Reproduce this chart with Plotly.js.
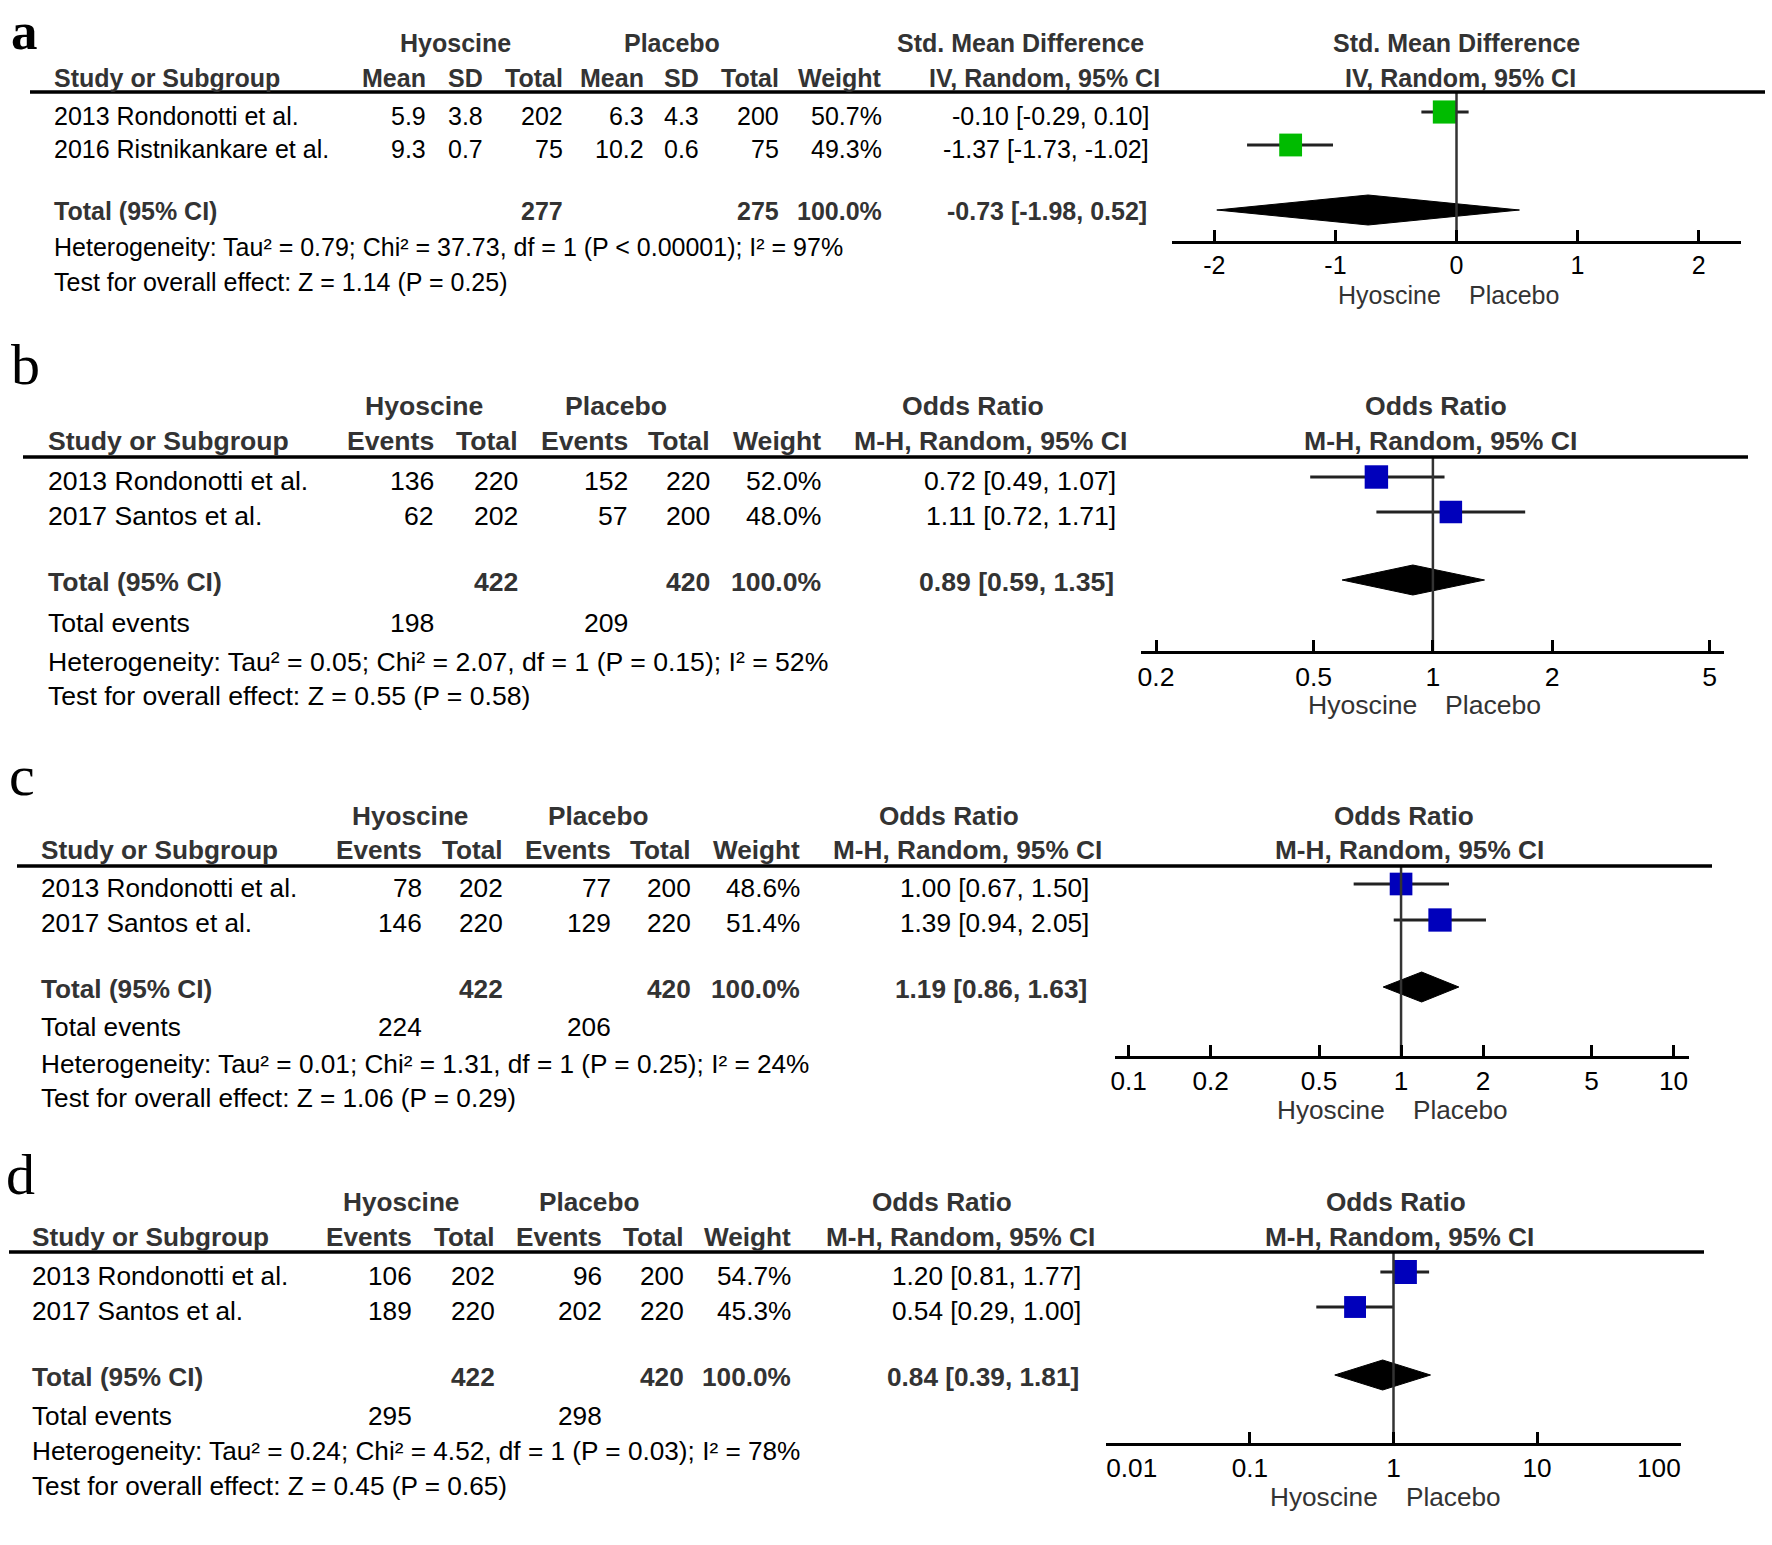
<!DOCTYPE html>
<html>
<head>
<meta charset="utf-8">
<script src="https://cdn.plot.ly/plotly-3.0.1.min.js"></script>
<style>html,body{margin:0;padding:0;background:#fff}#chart{width:1772px;height:1545px}</style>
</head>
<body>
<div id="chart"></div>
<script>
// ================= DATA =================
// Panel a : Std. Mean Difference
const studiesA = ['2013 Rondonotti et al.', '2016 Ristnikankare et al.'];
const hyoMeanA = [5.9, 9.3];
const hyoSdA = [3.8, 0.7];
const hyoTotalA = [202, 75];
const plaMeanA = [6.3, 10.2];
const plaSdA = [4.3, 0.6];
const plaTotalA = [200, 75];
const weightA = [50.7, 49.3];
const estA = [-0.10, -1.37];
const loA = [-0.29, -1.73];
const hiA = [0.10, -1.02];
const pooledA = [-0.73, -1.98, 0.52];   // estimate, lower, upper
const sumTotalsA = [277, 275];
const hetA = 'Heterogeneity: Tau² = 0.79; Chi² = 37.73, df = 1 (P < 0.00001); I² = 97%';
const testA = 'Test for overall effect: Z = 1.14 (P = 0.25)';
const ticksA = [-2, -1, 0, 1, 2];

// Panel b : Odds Ratio
const studiesB = ['2013 Rondonotti et al.', '2017 Santos et al.'];
const hyoEventsB = [136, 62];
const hyoTotalB = [220, 202];
const plaEventsB = [152, 57];
const plaTotalB = [220, 200];
const weightB = [52.0, 48.0];
const estB = [0.72, 1.11];
const loB = [0.49, 0.72];
const hiB = [1.07, 1.71];
const pooledB = [0.89, 0.59, 1.35];
const sumTotalsB = [422, 420];
const totalEventsB = [198, 209];
const hetB = 'Heterogeneity: Tau² = 0.05; Chi² = 2.07, df = 1 (P = 0.15); I² = 52%';
const testB = 'Test for overall effect: Z = 0.55 (P = 0.58)';
const ticksB = [0.2, 0.5, 1, 2, 5];

// Panel c : Odds Ratio
const studiesC = ['2013 Rondonotti et al.', '2017 Santos et al.'];
const hyoEventsC = [78, 146];
const hyoTotalC = [202, 220];
const plaEventsC = [77, 129];
const plaTotalC = [200, 220];
const weightC = [48.6, 51.4];
const estC = [1.00, 1.39];
const loC = [0.67, 0.94];
const hiC = [1.50, 2.05];
const pooledC = [1.19, 0.86, 1.63];
const sumTotalsC = [422, 420];
const totalEventsC = [224, 206];
const hetC = 'Heterogeneity: Tau² = 0.01; Chi² = 1.31, df = 1 (P = 0.25); I² = 24%';
const testC = 'Test for overall effect: Z = 1.06 (P = 0.29)';
const ticksC = [0.1, 0.2, 0.5, 1, 2, 5, 10];

// Panel d : Odds Ratio
const studiesD = ['2013 Rondonotti et al.', '2017 Santos et al.'];
const hyoEventsD = [106, 189];
const hyoTotalD = [202, 220];
const plaEventsD = [96, 202];
const plaTotalD = [200, 220];
const weightD = [54.7, 45.3];
const estD = [1.20, 0.54];
const loD = [0.81, 0.29];
const hiD = [1.77, 1.00];
const pooledD = [0.84, 0.39, 1.81];
const sumTotalsD = [422, 420];
const totalEventsD = [295, 298];
const hetD = 'Heterogeneity: Tau² = 0.24; Chi² = 4.52, df = 1 (P = 0.03); I² = 78%';
const testD = 'Test for overall effect: Z = 0.45 (P = 0.65)';
const ticksD = [0.01, 0.1, 1, 10, 100];

// ================= LAYOUT HELPERS =================
const W = 1772, H = 1545;
const FONT = 'Liberation Sans, Arial, Helvetica, sans-serif';
const SERIF = 'Liberation Serif, Times New Roman, serif';
const HDR = '#333333';
const annotations = [], shapes = [], traces = [];
const px = x => x / W, py = y => 1 - y / H;
const f1 = v => v.toFixed(1);
const f2 = v => v.toFixed(2);
const pct = v => v.toFixed(1) + '%';
const ci = (e, l, h) => f2(e) + ' [' + f2(l) + ', ' + f2(h) + ']';
const sum = a => a.reduce((s, v) => s + v, 0);

function txt(text, x, y, anchor, o = {}) {
  annotations.push({
    text: o.bold ? '<b>' + text + '</b>' : text,
    x: px(x), y: py(y - (o.raw ? 0 : 1.5)), xref: 'paper', yref: 'paper',
    xanchor: anchor, yanchor: o.yanchor || 'middle', showarrow: false,
    font: {family: o.family || FONT, size: o.size || 25, color: o.color || '#000'}
  });
}

const panels = [
  {
    label: 'a', labelPos: [9, 0], labelTop: true, fs: 25,
    grpY: 45, hdrY: 79, lineY: 92, lineX: [30, 1765],
    rowY: [117, 150], totY: 213, teY: null, hetY: 248, testY: 283, leftX: 52,
    colRight: [428, 485, 565, 646, 701, 781, 884], grpCenter: [455, 672],
    estRight: 1151, estHdr: [1020, 1162], plotHdr: [1456, 1460],
    axisX: [1172, 1741], axisY: 242, range: [-2.35, 2.35], type: 'linear', nullV: 0,
    color: '#00bb00', grpHdr: ['Mean', 'SD', 'Total', 'Mean', 'SD', 'Total', 'Weight'],
    estTitle: ['Std. Mean Difference', 'IV, Random, 95% CI'],
    studies: studiesA,
    cols: [hyoMeanA.map(f1), hyoSdA.map(f1), hyoTotalA.map(String), plaMeanA.map(f1), plaSdA.map(f1), plaTotalA.map(String), weightA.map(pct)],
    totals: ['', '', String(sumTotalsA[0]), '', '', String(sumTotalsA[1]), pct(sum(weightA))],
    totalEvents: null, weight: weightA, est: estA, lo: loA, hi: hiA, pooled: pooledA,
    het: hetA, test: testA, ticks: ticksA, tickText: ticksA.map(String)
  },
  {
    label: 'b', labelPos: [9, 365], fs: 26.6,
    grpY: 407, hdrY: 442, lineY: 457, lineX: [23, 1748],
    rowY: [482, 517], totY: 583, teY: 625, hetY: 663, testY: 698, leftX: 46,
    colRight: [436, 520, 630, 712, 823], grpCenter: [424, 616],
    estRight: 1118, estHdr: [973, 1129], plotHdr: [1436, 1440],
    axisX: [1141, 1724], axisY: 652, range: [-0.737, 0.735], type: 'log', nullV: 1,
    color: '#0000bb', grpHdr: ['Events', 'Total', 'Events', 'Total', 'Weight'],
    estTitle: ['Odds Ratio', 'M-H, Random, 95% CI'],
    studies: studiesB,
    cols: [hyoEventsB.map(String), hyoTotalB.map(String), plaEventsB.map(String), plaTotalB.map(String), weightB.map(pct)],
    totals: ['', String(sumTotalsB[0]), '', String(sumTotalsB[1]), pct(sum(weightB))],
    totalEvents: [String(totalEventsB[0]), '', String(totalEventsB[1]), '', ''],
    weight: weightB, est: estB, lo: loB, hi: hiB, pooled: pooledB,
    het: hetB, test: testB, ticks: ticksB, tickText: ticksB.map(String)
  },
  {
    label: 'c', labelPos: [7, 775], fs: 26.2,
    grpY: 817, hdrY: 852, lineY: 866, lineX: [17, 1712],
    rowY: [889, 925], totY: 990, teY: 1028, hetY: 1065, testY: 1099, leftX: 39,
    colRight: [424, 505, 613, 693, 802], grpCenter: [410, 598],
    estRight: 1091, estHdr: [949, 1104], plotHdr: [1404, 1409],
    axisX: [1115, 1689], axisY: 1057, range: [-1.05, 1.057], type: 'log', nullV: 1,
    color: '#0000bb', grpHdr: ['Events', 'Total', 'Events', 'Total', 'Weight'],
    estTitle: ['Odds Ratio', 'M-H, Random, 95% CI'],
    studies: studiesC,
    cols: [hyoEventsC.map(String), hyoTotalC.map(String), plaEventsC.map(String), plaTotalC.map(String), weightC.map(pct)],
    totals: ['', String(sumTotalsC[0]), '', String(sumTotalsC[1]), pct(sum(weightC))],
    totalEvents: [String(totalEventsC[0]), '', String(totalEventsC[1]), '', ''],
    weight: weightC, est: estC, lo: loC, hi: hiC, pooled: pooledC,
    het: hetC, test: testC, ticks: ticksC, tickText: ticksC.map(String)
  },
  {
    label: 'd', labelPos: [4, 1174], fs: 26.2,
    grpY: 1203, hdrY: 1238, lineY: 1252, lineX: [9, 1704],
    rowY: [1277, 1312], totY: 1378, teY: 1417, hetY: 1452, testY: 1487, leftX: 30,
    colRight: [414, 497, 604, 686, 793], grpCenter: [401, 589],
    estRight: 1083, estHdr: [942, 1097], plotHdr: [1396, 1399],
    axisX: [1106, 1681], axisY: 1444, range: [-2.002, 2.002], type: 'log', nullV: 1,
    color: '#0000bb', grpHdr: ['Events', 'Total', 'Events', 'Total', 'Weight'],
    estTitle: ['Odds Ratio', 'M-H, Random, 95% CI'],
    studies: studiesD,
    cols: [hyoEventsD.map(String), hyoTotalD.map(String), plaEventsD.map(String), plaTotalD.map(String), weightD.map(pct)],
    totals: ['', String(sumTotalsD[0]), '', String(sumTotalsD[1]), pct(sum(weightD))],
    totalEvents: [String(totalEventsD[0]), '', String(totalEventsD[1]), '', ''],
    weight: weightD, est: estD, lo: loD, hi: hiD, pooled: pooledD,
    het: hetD, test: testD, ticks: ticksD,
    // end labels are pulled inward as in the original
    tickText: ticksD.map((t, i) => i === 0 ? '\u00a0'.repeat(7) + t : (i === ticksD.length - 1 ? t + '\u00a0'.repeat(6) : String(t)))
  }
];

const layout = {
  width: W, height: H, margin: {l: 0, r: 0, t: 0, b: 0},
  paper_bgcolor: '#fff', plot_bgcolor: 'rgba(0,0,0,0)',
  showlegend: false, hovermode: false,
  yaxis: {domain: [0, 1], range: [H, 0], visible: false, anchor: 'free', position: 0, fixedrange: true}
};

panels.forEach((p, k) => {
  const ax = k === 0 ? 'x' : 'x' + (k + 1);
  const axName = k === 0 ? 'xaxis' : 'xaxis' + (k + 1);
  const fs = p.fs;
  layout[axName] = {
    domain: [px(p.axisX[0]), px(p.axisX[1])], range: p.range, type: p.type,
    anchor: 'free', position: py(p.axisY),
    showline: true, linecolor: '#000', linewidth: 3,
    ticks: 'inside', ticklen: 11, tickwidth: 3, tickcolor: '#000',
    tickmode: 'array', tickvals: p.ticks, ticktext: p.tickText,
    tickfont: {family: FONT, size: fs, color: '#000'},
    showgrid: false, zeroline: false, fixedrange: true
  };

  // panel letter
  if (p.labelTop) {
    txt(p.label, p.labelPos[0], p.labelPos[1], 'left', {family: SERIF, size: 53, yanchor: 'top', raw: true, bold: true});
  } else {
    txt(p.label, p.labelPos[0], p.labelPos[1], 'left', {family: SERIF, size: 58, raw: true});
  }

  const B = {bold: true, color: HDR, size: fs};
  const R = {size: fs};
  // group headers
  txt('Hyoscine', p.grpCenter[0], p.grpY, 'center', B);
  txt('Placebo', p.grpCenter[1], p.grpY, 'center', B);
  txt(p.estTitle[0], p.estHdr[0], p.grpY, 'center', B);
  txt(p.estTitle[1], p.estHdr[1], p.hdrY, 'right', B);
  txt(p.estTitle[0], p.plotHdr[0], p.grpY, 'center', B);
  txt(p.estTitle[1], p.plotHdr[1], p.hdrY, 'center', B);
  txt('Study or Subgroup', p.leftX, p.hdrY, 'left', B);
  p.grpHdr.forEach((h, i) => txt(h, p.colRight[i], p.hdrY, 'right', B));

  // header rule
  shapes.push({type: 'line', xref: 'paper', yref: 'paper', x0: px(p.lineX[0]), x1: px(p.lineX[1]),
    y0: py(p.lineY), y1: py(p.lineY), line: {color: '#000', width: 3.5}});

  // study rows
  p.studies.forEach((s, r) => {
    const y = p.rowY[r];
    txt(s, p.leftX, y, 'left', R);
    p.cols.forEach((c, i) => txt(c[r], p.colRight[i], y, 'right', R));
    txt(ci(p.est[r], p.lo[r], p.hi[r]), p.estRight, y, 'right', R);
  });

  // total row
  txt('Total (95% CI)', p.leftX, p.totY, 'left', B);
  p.totals.forEach((t, i) => { if (t) txt(t, p.colRight[i], p.totY, 'right', B); });
  txt(ci(p.pooled[0], p.pooled[1], p.pooled[2]), p.estRight - 2, p.totY, 'right', B);

  if (p.totalEvents) {
    txt('Total events', p.leftX, p.teY, 'left', R);
    p.totalEvents.forEach((t, i) => { if (t) txt(t, p.colRight[i], p.teY, 'right', R); });
  }
  txt(p.het, p.leftX, p.hetY, 'left', R);
  txt(p.test, p.leftX, p.testY, 'left', R);

  // favours labels around the line of no effect
  const nullPos = p.type === 'log' ? Math.log10(p.nullV) : p.nullV;
  annotations.push({text: 'Hyoscine', xref: ax, yref: 'paper', x: nullPos, y: py(p.axisY + 53),
    xanchor: 'right', yanchor: 'middle', xshift: -14, showarrow: false, font: {family: FONT, size: fs, color: HDR}});
  annotations.push({text: 'Placebo', xref: ax, yref: 'paper', x: nullPos, y: py(p.axisY + 53),
    xanchor: 'left', yanchor: 'middle', xshift: 10, showarrow: false, font: {family: FONT, size: fs, color: HDR}});

  // CI whiskers
  p.est.forEach((e, r) => {
    const y = p.rowY[r] - 5;
    traces.push({type: 'scatter', mode: 'lines', xaxis: ax, yaxis: 'y',
      x: [p.lo[r], p.hi[r]], y: [y, y], line: {color: '#222', width: 3}});
  });
  // weight squares
  traces.push({type: 'scatter', mode: 'markers', xaxis: ax, yaxis: 'y',
    x: p.est, y: p.rowY.map(v => v - 5),
    marker: {symbol: 'square', color: p.color, opacity: 1, size: p.weight.map(w => 3.25 * Math.sqrt(w)), line: {width: 0}}});
  // pooled diamond
  const dy = p.totY - 3, hh = 15;
  traces.push({type: 'scatter', mode: 'lines', xaxis: ax, yaxis: 'y', fill: 'toself', fillcolor: '#000',
    x: [p.pooled[1], p.pooled[0], p.pooled[2], p.pooled[0], p.pooled[1]],
    y: [dy, dy - hh, dy, dy + hh, dy], line: {color: '#000', width: 1}});
  // line of no effect
  traces.push({type: 'scatter', mode: 'lines', xaxis: ax, yaxis: 'y',
    x: [p.nullV, p.nullV], y: [p.lineY, p.axisY], line: {color: '#333', width: 2.5}});
});

layout.annotations = annotations;
layout.shapes = shapes;

Plotly.newPlot('chart', traces, layout, {staticPlot: true, displayModeBar: false});
</script>
</body>
</html>
